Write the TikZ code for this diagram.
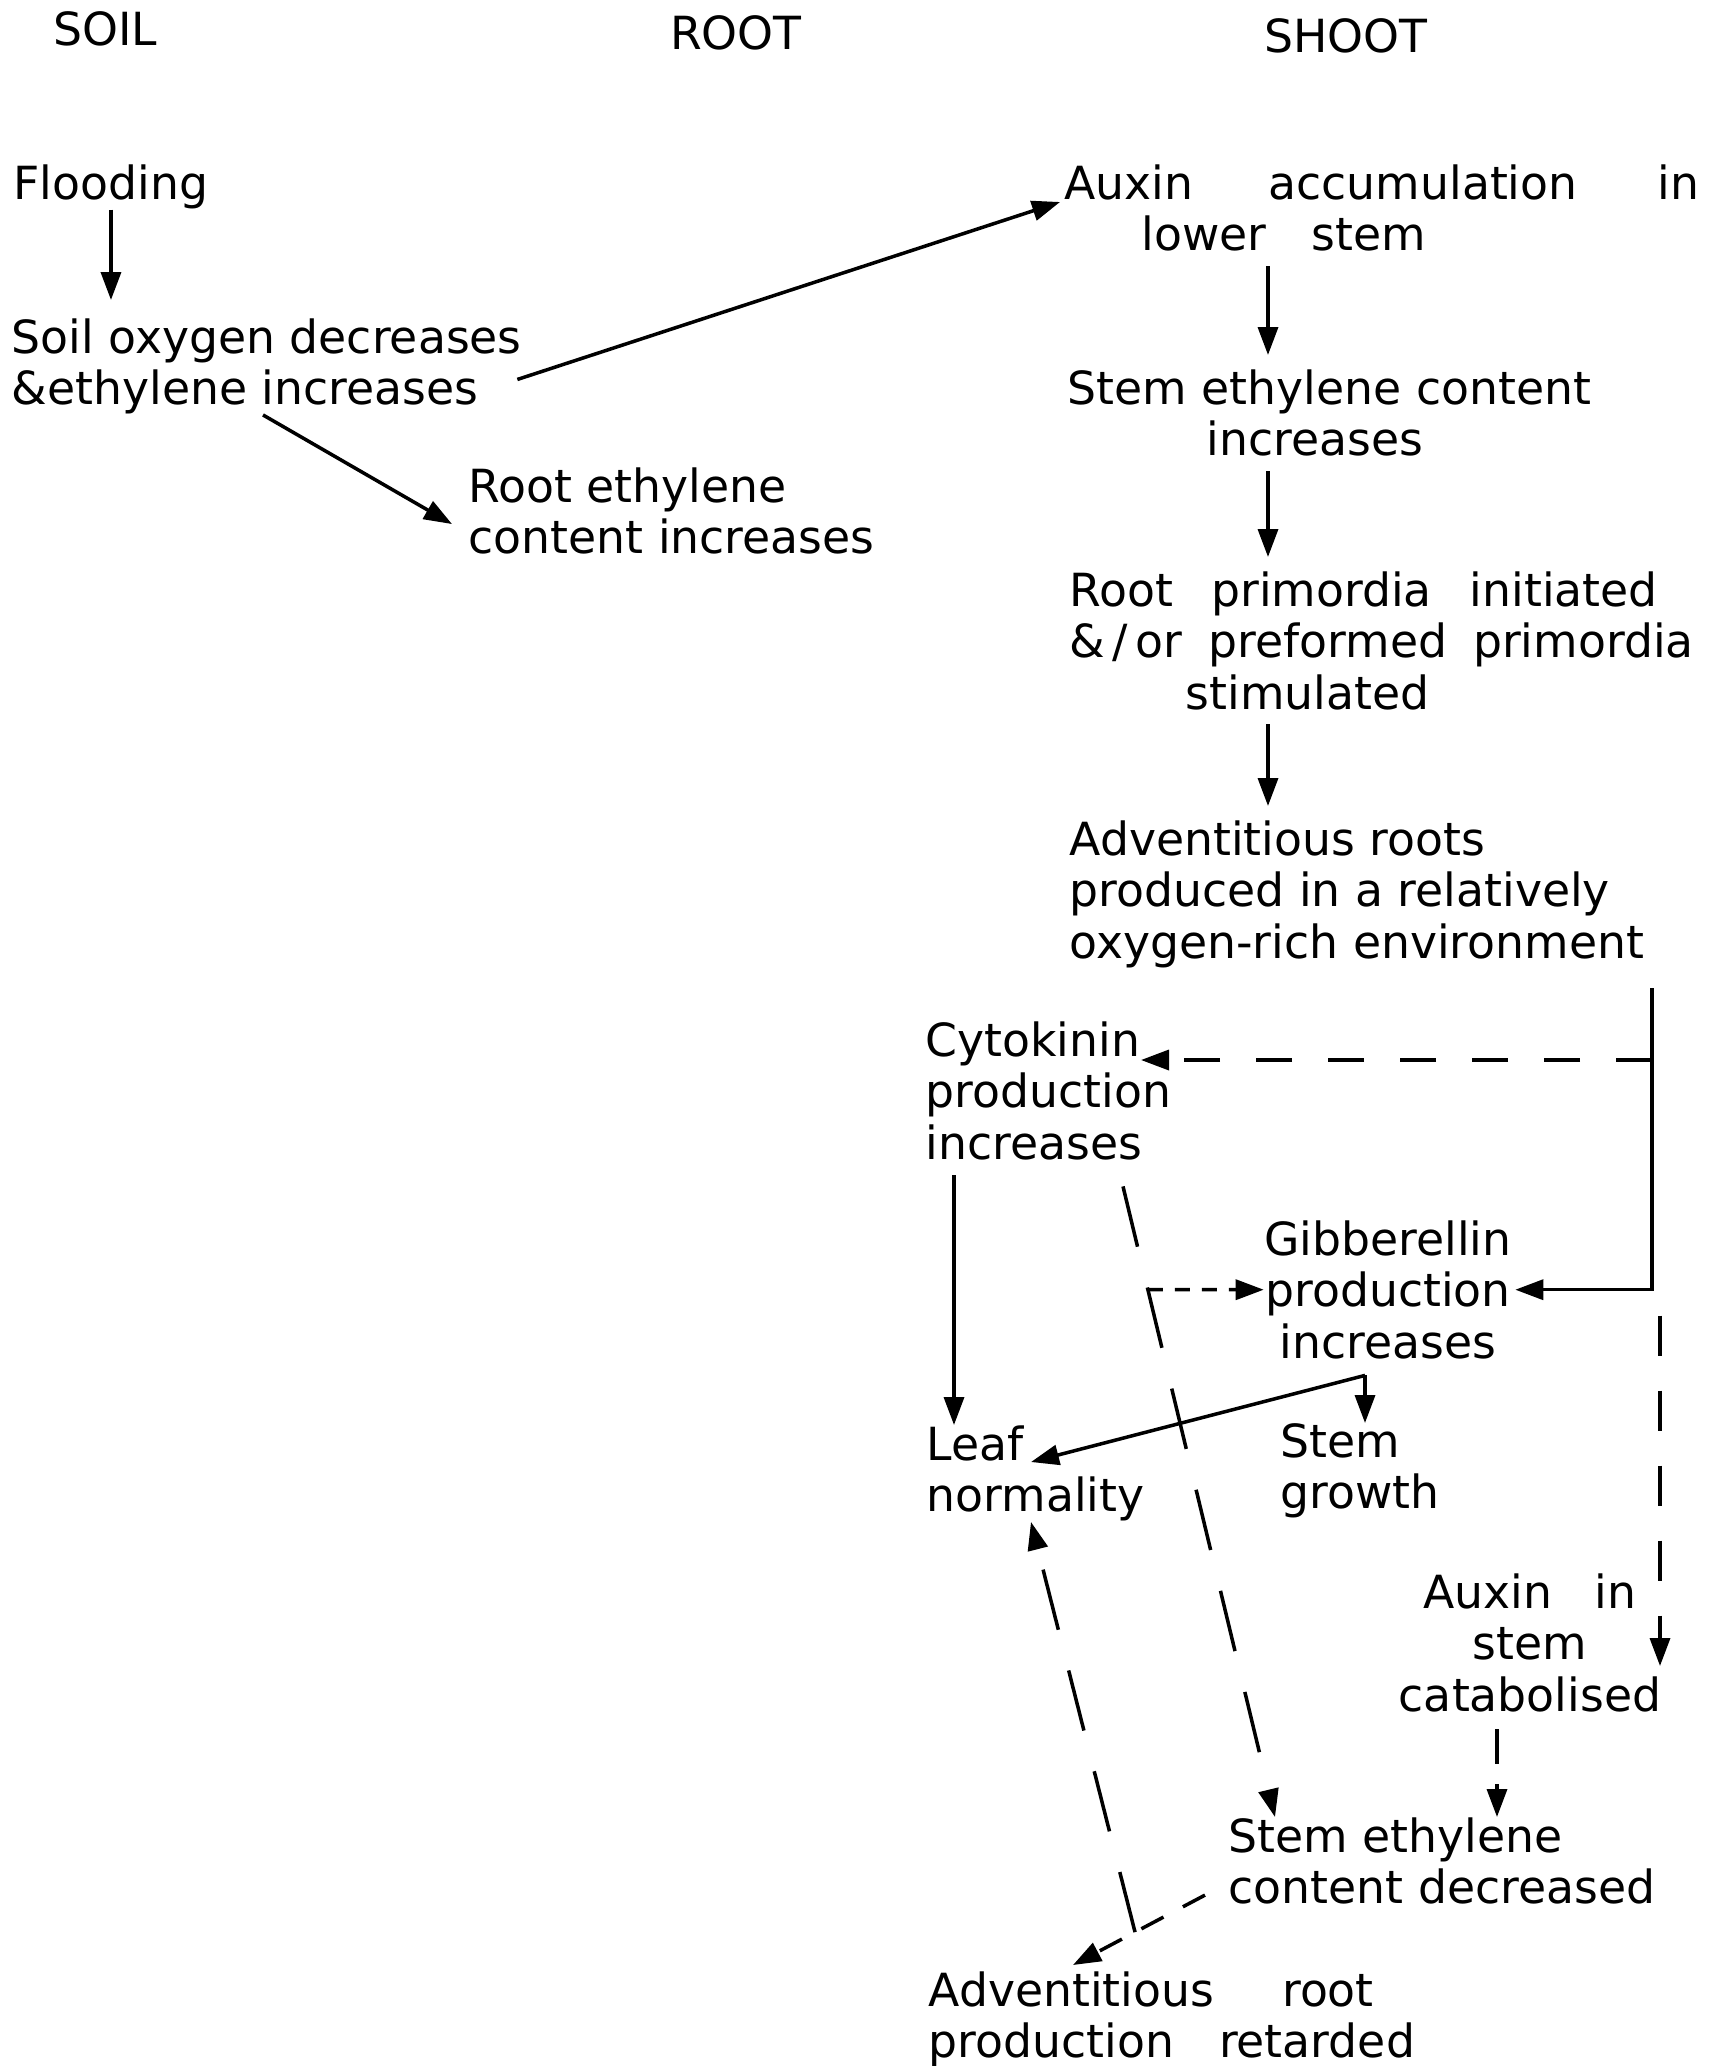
\documentclass[tikz,border=0pt]{standalone}
\usepackage{fontspec}
\setmainfont{DejaVu Sans}
\usepackage{tikz}
\usetikzlibrary{arrows.meta,positioning,calc}

\begin{document}
\begin{tikzpicture}[x=1cm,y=1cm,font=\fontsize{13}{14.6}\selectfont,
  txt/.style={inner sep=0pt,align=left,anchor=north west},
  ctxt/.style={inner sep=0pt,align=center,anchor=north},
  arr/.style={-{Triangle[length=0.28cm,width=0.2cm]},line width=1pt},
  downarr/.style={arr,shorten <=0.14cm,shorten >=0.14cm},
  longdash/.style={arr,dash pattern=on 0.62cm off 0.42cm},
  middash/.style={arr,dash pattern=on 0.36cm off 0.36cm},
  shortdash/.style={arr,dash pattern=on 0.15cm off 0.12cm}]
\path[use as bounding box] (0,0) rectangle (17.32,-20.66);

% Column heads
\node[inner sep=0pt] (soilhd) at (1.05,-0.29) {SOIL};
\node[inner sep=0pt] (roothd) at (7.36,-0.33) {ROOT};
\node[inner sep=0pt] (shoothd) at (13.46,-0.36) {SHOOT};

% Soil and root
\node[txt] (flood) at (0.13,-1.64) {Flooding};
\node[txt] (soil) at (0.11,-3.18)
  {Soil oxygen decreases\\\&ethylene increases};
\node[txt] (rootEth) at (4.68,-4.67) {Root ethylene\\content increases};

% Shoot, main column
\node[txt] (auxin) at (10.64,-1.64)
  {Auxin\hspace{0.75cm}accumulation\hspace{0.8cm}in\\
   \hspace*{0.77cm}lower\hspace{0.45cm}stem};
\node[txt] (stemEth) at (10.67,-3.69)
  {Stem ethylene content\\\hspace*{1.39cm}increases};
\node[txt] (prim) at (10.69,-5.71)
  {Root\hspace{0.38cm}primordia\hspace{0.38cm}initiated\\
   \&\,/\,or\hspace{0.26cm}preformed\hspace{0.26cm}primordia\\
   \hspace*{1.16cm}stimulated};
\node[txt] (adv) at (10.69,-8.20)
  {Adventitious roots\\produced in a relatively\\oxygen-rich environment};

% Hormone responses
\node[txt] (cyto) at (9.25,-10.21) {Cytokinin\\production\\increases};
\node[ctxt] (gibb) at (13.88,-12.20) {Gibberellin\\production\\increases};
\node[txt] (leaf) at (9.26,-14.25) {Leaf\\normality};
\node[txt] (stem) at (12.80,-14.23) {Stem\\growth};
\node[ctxt] (aucat) at (15.30,-15.73)
  {Auxin\hspace{0.42cm}in\\stem\\catabolised};
\node[txt] (sed) at (12.28,-18.17) {Stem ethylene\\content decreased};
\node[txt] (adr) at (9.28,-19.71)
  {Adventitious\hspace{0.68cm}root\\production\hspace{0.45cm}retarded};

\coordinate (sx) at (12.68,0);
\coordinate (rx) at (16.52,0);
\coordinate (rx2) at (16.60,0);
\coordinate (lx) at (9.54,0);
\coordinate (cx) at (14.97,0);

% Flooding chain
\draw[arr,shorten >=0.18cm] (flood) -- (flood |- soil.north);
\draw[arr] ($(soil.south west)+(2.52,0)$) -- ($(rootEth.west)+(-0.16,-0.13)$);
\draw[arr] ($(soil.east)+(-0.05,-0.13)$) -- ($(auxin.north west)+(-0.04,-0.38)$);
\draw[downarr] (auxin.south -| sx) -- (stemEth.north -| sx);
\draw[downarr] (stemEth.south -| sx) -- (prim.north -| sx);
\draw[downarr] (prim.south -| sx) -- (adv.north -| sx);

% Effects of the new roots
\draw[arr,shorten >=0.03cm] ($(adv.south -| rx)+(0,-0.2)$) |- (gibb.east);
\coordinate (cytoTip) at ($(cyto.north west)+(2.16,-0.39)$);
\draw[middash] (rx |- cytoTip) -- (cytoTip);
\draw[arr,shorten <=0.15cm] (cyto.south -| lx) -- (leaf.north -| lx);
\coordinate (gj) at ($(gibb.south)+(-0.23,-0.16)$);
\coordinate (leafTip) at ($(leaf.north west)+(1.05,-0.37)$);
\draw[arr] (gj) -- (gj |- stem.north);
\draw[arr] (gj) -- (leafTip);

\coordinate (cytoOut) at ($(cyto.south west)+(1.98,-0.26)$);
\coordinate (sedIn) at ($(sed.north west)+(0.47,0)$);
\draw[longdash] (cytoOut) -- (sedIn);
\coordinate (gx) at (intersection of cytoOut--sedIn and gibb.west--gibb.east);
\draw[shortdash] (gx) -- (gibb.west);

\draw[arr,dash pattern=on 0.4cm off 0.35cm]
  ($(gibb.east -| rx2)+(0,-0.26)$) -- ($(aucat.north -| rx2)+(0,-0.93)$);
\draw[arr,dash pattern=on 0.35cm off 0.2cm,shorten <=0.17cm]
  (aucat.south -| cx) -- (sed.north -| cx);

\coordinate (sedOut) at ($(sed.south west)+(-0.23,0.10)$);
\coordinate (adrIn) at ($(adr.north west)+(1.45,0.06)$);
\draw[arr,dash pattern=on 0.25cm off 0.22cm] (sedOut) -- (adrIn);
\coordinate (lfOut) at ($(sedOut)!0.53!(adrIn)$);
\draw[longdash] (lfOut) -- ($(leaf.south west)+(1.05,0)$);
\end{tikzpicture}
\end{document}
